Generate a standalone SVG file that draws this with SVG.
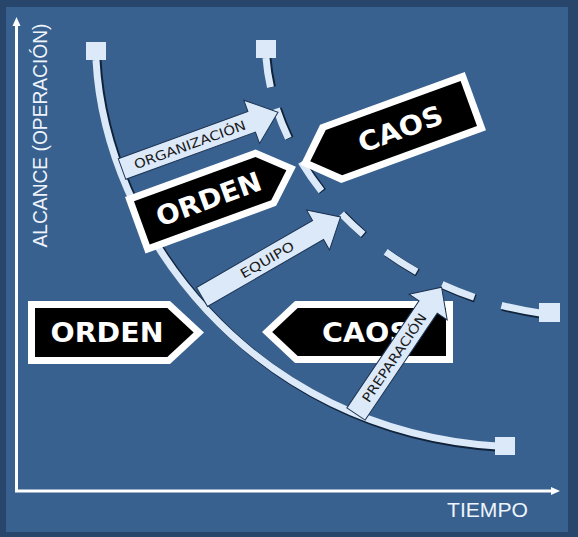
<svg xmlns="http://www.w3.org/2000/svg" width="578" height="537" viewBox="0 0 578 537">
<defs>
<style>
.lbl{font-family:"Liberation Sans",Arial,sans-serif;fill:#eef4fb}
.bo{fill:#ffffff}
.bi{fill:#000000}
.btxt{font-family:"DejaVu Sans","Liberation Sans",sans-serif;font-weight:bold;fill:#ffffff;font-size:27px;text-anchor:middle}
.arrow{fill:#dce9f8;stroke:#1c3454;stroke-width:1}
.atxt{font-family:"DejaVu Sans","Liberation Sans",sans-serif;font-size:13px;fill:#1a1a1a;text-anchor:middle}
.pipe{fill:none;stroke:#dce9f8;stroke-width:7}
.pipesh{fill:none;stroke:#10233b;stroke-width:8}
.sq{fill:#dce9f8}
.axis{stroke:#ffffff;stroke-width:3}
</style>
</defs>
<rect x="0" y="0" width="578" height="537" fill="#28466b"/>
<rect x="6" y="7" width="562" height="525" fill="#386190"/>

<g id="axes">
<line class="axis" x1="16.5" y1="492" x2="16.5" y2="24"/>
<polygon points="16.5,17 12.5,26 20.5,26" fill="#ffffff"/>
<line class="axis" x1="15" y1="491" x2="552" y2="491"/>
<polygon points="560,491 551,487 551,495" fill="#ffffff"/>
<text class="lbl" transform="translate(47,135.5) rotate(-90)" font-size="20" text-anchor="middle" textLength="224" lengthAdjust="spacingAndGlyphs">ALCANCE (OPERACIÓN)</text>
<text class="lbl" x="487.5" y="517" font-size="21" text-anchor="middle" textLength="81" lengthAdjust="spacingAndGlyphs">TIEMPO</text>
</g>

<g id="connectors">
<g id="curve-main">
<path class="pipesh" d="M97.5,60 C106.5,230 251.5,431.5 497,447.5"/>
<path class="pipe" d="M96,60 C105,230 250,430 497,446"/>
<rect class="sq" x="86" y="42" width="20" height="18"/>
<rect class="sq" x="495" y="437" width="20" height="18"/>
</g>
<g id="curve-dashed">
<path class="pipesh" d="M267.5,58 C276.5,170 381.5,291.5 541,314.5" pathLength="408" stroke-dasharray="30 22.6 32.3 27.3 36 30.8 30.2 29 37.4 28.8 35.1 28.8 41 10"/>
<path class="pipe" d="M266,58 C275,170 380,290 540,313" pathLength="408" stroke-dasharray="30 22.6 32.3 27.3 36 30.8 30.2 29 37.4 28.8 35.1 28.8 41 10"/>
<rect class="sq" x="256" y="40" width="20" height="18"/>
<rect class="sq" x="539" y="303" width="21" height="19"/>
</g>
</g>

<g id="node-orden-1" transform="translate(28,301)">
<polygon class="bo" points="0,0 142,0 176,31.5 142,63 0,63"/>
<polygon class="bi" points="7,7 139.3,7 165.7,31.5 139.3,56 7,56"/>
<text class="btxt" x="79" y="41" textLength="113" lengthAdjust="spacingAndGlyphs">ORDEN</text>
</g>

<g id="node-caos-1" transform="translate(262,301)">
<polygon class="bo" points="0,31 33,0 191,0 191,62 33,62"/>
<polygon class="bi" points="10.2,31 35.7,7 184,7 184,55 35.7,55"/>
<text class="btxt" x="104" y="41" textLength="88" lengthAdjust="spacingAndGlyphs">CAOS</text>
</g>

<g id="node-orden-2" transform="translate(125,197) rotate(-20)">
<polygon class="bo" points="0,0 139,0 171,30 139,60 0,60"/>
<polygon class="bi" points="7,7 136.3,7 160.8,30 136.3,53 7,53"/>
<text class="btxt" x="78" y="40" textLength="110" lengthAdjust="spacingAndGlyphs">ORDEN</text>
</g>

<g id="node-caos-2" transform="translate(290,135.6) rotate(-20)">
<polygon class="bo" points="0,31 32,0 186,0 186,62 32,62"/>
<polygon class="bi" points="10.2,31 35.5,7 179,7 179,55 35.5,55"/>
<text class="btxt" x="106" y="41" textLength="88" lengthAdjust="spacingAndGlyphs">CAOS</text>
</g>

<g id="arrows">
<g id="arrow-organizacion" transform="translate(122,169) rotate(-20)">
<polygon class="arrow" points="0,-11 138,-11 138,-23 166,0 138,23 138,11 0,11"/>
<text class="atxt" x="72" y="5" textLength="118" lengthAdjust="spacingAndGlyphs">ORGANIZACIÓN</text>
</g>
<g id="arrow-equipo" transform="translate(202,297) rotate(-30)">
<polygon class="arrow" points="0,-11 134,-11 134,-23 160,0 134,23 134,11 0,11"/>
<text class="atxt" x="75" y="5" textLength="60" lengthAdjust="spacingAndGlyphs">EQUIPO</text>
</g>
<g id="arrow-preparacion" transform="translate(356,414) rotate(-56)">
<polygon class="arrow" points="0,-11 129,-11 129,-23 153,0 129,23 129,11 0,11"/>
<text class="atxt" x="68" y="5" textLength="104" lengthAdjust="spacingAndGlyphs">PREPARACIÓN</text>
</g>
</g>
</svg>
